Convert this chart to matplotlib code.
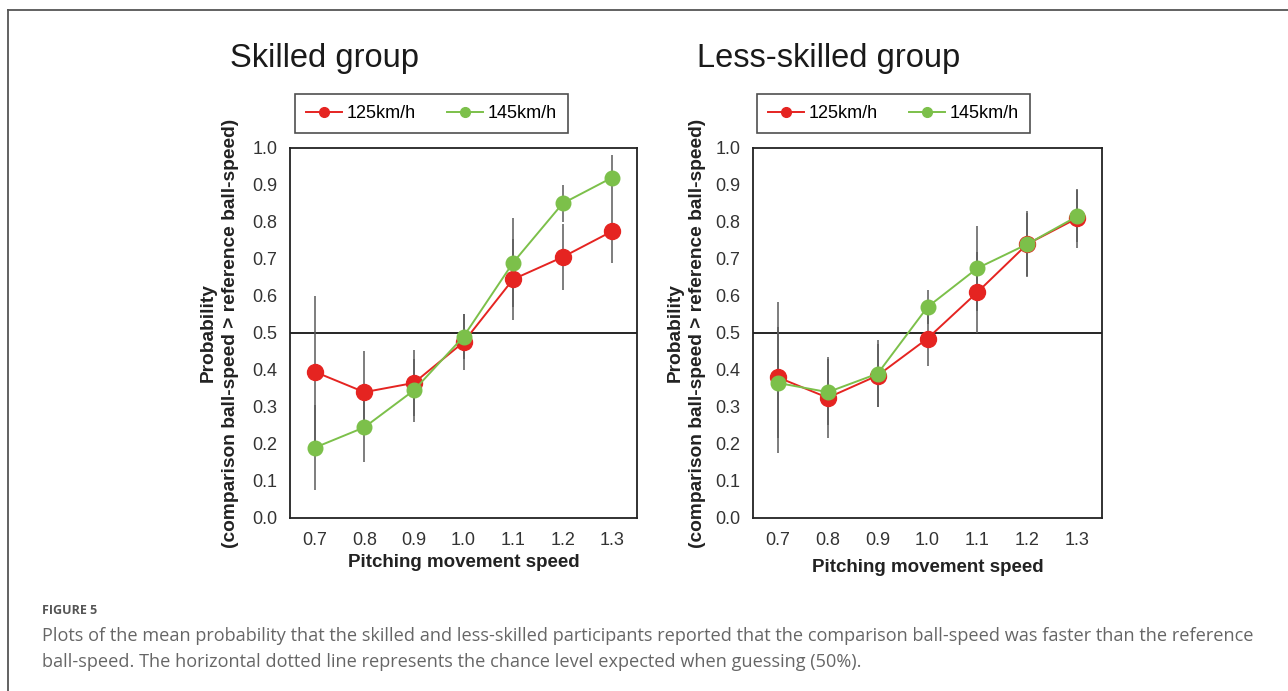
import numpy as np
import matplotlib.pyplot as plt
from matplotlib.lines import Line2D

plt.rcParams['font.family'] = ['Liberation Sans', 'DejaVu Sans']

# Data
speeds = [0.7, 0.8, 0.9, 1.0, 1.1, 1.2, 1.3]
tick_labels = ["0.7", "0.8", "0.9", "1.0", "1.1", "1.2", "1.3"]

skilled_125 = [0.395, 0.34, 0.365, 0.475, 0.645, 0.705, 0.775]
skilled_145 = [0.19, 0.245, 0.345, 0.49, 0.69, 0.85, 0.92]
skilled_125_err = [0.205, 0.11, 0.09, 0.075, 0.11, 0.09, 0.085]
skilled_145_err = [0.115, 0.095, 0.085, 0.06, 0.12, 0.05, 0.06]

less_125 = [0.38, 0.325, 0.385, 0.485, 0.61, 0.74, 0.81]
less_145 = [0.365, 0.34, 0.39, 0.57, 0.675, 0.74, 0.815]
less_125_err = [0.205, 0.11, 0.085, 0.075, 0.11, 0.085, 0.08]
less_145_err = [0.15, 0.09, 0.09, 0.045, 0.115, 0.09, 0.07]

titles = ["Skilled group", "Less-skilled group"]
red = "#e52421"
green = "#7cc04a"
err_col = "#5a5a5a"

fig = plt.figure(figsize=(12.88, 6.91), dpi=100)

# outer frame (top and left edges)
fig.add_artist(Line2D([8 / 1288, 8 / 1288], [0, 1 - 10 / 691], transform=fig.transFigure,
                      color="#555555", lw=1.3))
fig.add_artist(Line2D([8 / 1288, 1], [1 - 10 / 691, 1 - 10 / 691], transform=fig.transFigure,
                      color="#555555", lw=1.3))

ax_pos = [[290 / 1288, 0.2504, 347 / 1288, 0.5355],
          [753 / 1288, 0.2504, 349 / 1288, 0.5355]]
series = [(skilled_125, skilled_125_err, skilled_145, skilled_145_err),
          (less_125, less_125_err, less_145, less_145_err)]
title_x = [230 / 1288, 697 / 1288]
ylab_x = [-0.147, -0.136]
xlab_y = [-0.097, -0.111]
leg_x = [0.0144, 0.0115]

for i in range(2):
    ax = fig.add_axes(ax_pos[i])
    r, re, g, ge = series[i]
    ax.axhline(0.5, color="black", lw=1.2, zorder=1)
    ax.errorbar(speeds, r, yerr=re, fmt="none", ecolor=err_col, elinewidth=1.1, zorder=2)
    ax.errorbar(speeds, g, yerr=ge, fmt="none", ecolor=err_col, elinewidth=1.1, zorder=2)
    ax.plot(speeds, r, color=red, lw=1.4, marker="o", markersize=11.5, zorder=3)
    ax.plot(speeds, g, color=green, lw=1.4, marker="o", markersize=10.5, zorder=4)
    ax.set_xlim(0.65, 1.35)
    ax.set_ylim(0, 1.0)
    ax.set_xticks(speeds)
    ax.set_xticklabels(tick_labels)
    ax.set_yticks(np.arange(0, 1.01, 0.1))
    ax.set_yticklabels([f"{v:.1f}" for v in np.arange(0, 1.01, 0.1)])
    ax.tick_params(length=0, labelsize=13, colors="#333333", pad=9)
    ax.tick_params(axis="x", pad=10)
    for s in ax.spines.values():
        s.set_linewidth(1.3)
        s.set_color("#222222")
    ax.set_xlabel("Pitching movement speed", fontsize=13.5, fontweight="bold",
                  color="#222222")
    ax.xaxis.set_label_coords(0.5, xlab_y[i])
    ax.set_ylabel("Probability\n(comparison ball-speed > reference ball-speed)",
                  fontsize=13.8, fontweight="bold", color="#222222", linespacing=1.4)
    ax.yaxis.set_label_coords(ylab_x[i], 0.5)
    fig.text(title_x[i], 1 - 58 / 691, titles[i], fontsize=23.5, va="center",
             ha="left", color="#1a1a1a")
    handles = [Line2D([], [], color=red, lw=1.4, marker="o", markersize=7),
               Line2D([], [], color=green, lw=1.4, marker="o", markersize=7)]
    leg = ax.legend(handles, ["125km/h", "145km/h"], ncol=2, loc="lower left",
                    bbox_to_anchor=(leg_x[i], 1.0405), frameon=True, fancybox=False,
                    fontsize=13, handlelength=2.0, handletextpad=0.25,
                    columnspacing=1.75, borderpad=0.6, borderaxespad=0)
    leg.get_frame().set_edgecolor("#222222")
    leg.get_frame().set_linewidth(1.2)

fig.text(42 / 1288, 1 - 611 / 691, "FIGURE 5", fontsize=9, color="#555555",
         fontweight="bold", va="center", family=["Open Sans", "DejaVu Sans"])
fig.text(42 / 1288, 1 - 636 / 691,
         "Plots of the mean probability that the skilled and less-skilled participants "
         "reported that the comparison ball-speed was faster than the reference",
         fontsize=13.1, color="#666666", va="center", family=["Open Sans", "DejaVu Sans"])
fig.text(42 / 1288, 1 - 662 / 691,
         "ball-speed. The horizontal dotted line represents the chance level expected "
         "when guessing (50%).",
         fontsize=13.1, color="#666666", va="center", family=["Open Sans", "DejaVu Sans"])

fig.savefig("out.png", dpi=100)
